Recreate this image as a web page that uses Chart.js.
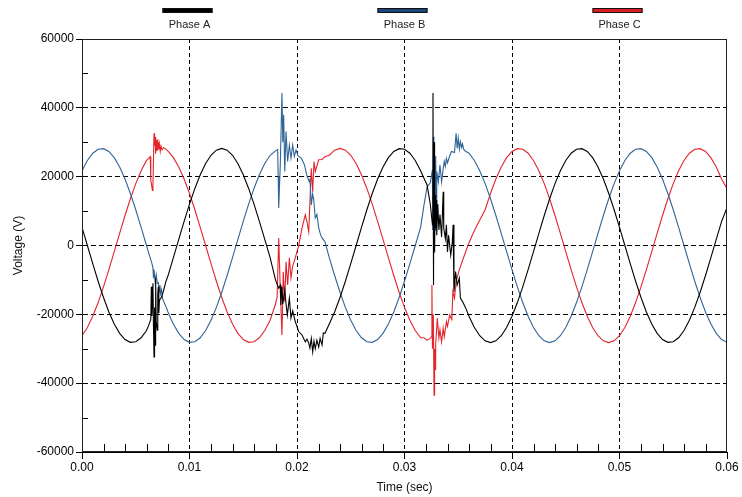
<!DOCTYPE html>
<html><head><meta charset="utf-8">
<script src="https://cdn.jsdelivr.net/npm/chart.js@4.4.0/dist/chart.umd.min.js"></script>
<style>html,body{margin:0;padding:0;background:#fff;}#wrap{width:742px;height:497px;}</style>
</head><body><div id="wrap"><canvas id="c" width="742" height="497"></canvas></div>
<script>
const seriesNames = ['Phase A', 'Phase B', 'Phase C'];
const xTickLabels = ['0.00','0.01','0.02','0.03','0.04','0.05','0.06'];
const yTickLabels = ['-60000','-40000','-20000','0','20000','40000','60000'];

const time = [0,0.0005,0.001,0.0015,0.002,0.0025,0.003,0.0035,0.004,0.0045,0.005,0.0055,0.006,0.0065,0.007,0.0075,0.008,0.0085,0.009,0.0095,
0.01,0.0105,0.011,0.0115,0.012,0.0125,0.013,0.0135,0.014,0.0145,0.015,0.0155,0.016,0.0165,0.017,0.0175,0.018,0.0185,0.019,0.0195,
0.02,0.0205,0.021,0.0215,0.022,0.0225,0.023,0.0235,0.024,0.0245,0.025,0.0255,0.026,0.0265,0.027,0.0275,0.028,0.0285,0.029,0.0295,
0.03,0.0305,0.031,0.0315,0.032,0.0325,0.033,0.0335,0.034,0.0345,0.035,0.0355,0.036,0.0365,0.037,0.0375,0.038,0.0385,0.039,0.0395,
0.04,0.0405,0.041,0.0415,0.042,0.0425,0.043,0.0435,0.044,0.0445,0.045,0.0455,0.046,0.0465,0.047,0.0475,0.048,0.0485,0.049,0.0495,
0.05,0.0505,0.051,0.0515,0.052,0.0525,0.053,0.0535,0.054,0.0545,0.055,0.0555,0.056,0.0565,0.057,0.0575,0.058,0.0585,0.059,0.0595,0.06];

const phaseA = [5280,0,-5280,-10380,-15110,-19300,-22810,-25520,-27310,-28140,-27980,-26820,-24710,-21730,-17980,-13590,-8710,-3530,1770,7010,
12010,16580,20560,23810,26220,27700,28200,27700,26220,23810,20560,16580,12010,7010,1770,-3530,-8710,-13590,-17980,-21730,
-24710,-26820,-27980,-28140,-27310,-25520,-22810,-19300,-15110,-10380,-5280,0,5280,10380,15110,19300,22810,25520,27310,28140,
27980,26820,24710,21730,17980,13590,8710,3530,-1770,-7010,-12010,-16580,-20560,-23810,-26220,-27700,-28200,-27700,-26220,-23810,
-20560,-16580,-12010,-7010,-1770,3530,8710,13590,17980,21730,24710,26820,27980,28140,27310,25520,22810,19300,15110,10380,
5280,0,-5280,-10380,-15110,-19300,-22810,-25520,-27310,-28140,-27980,-26820,-24710,-21730,-17980,-13590,-8710,-3530,1770,7010,11000];

const phaseB = [21730,24710,26820,27980,28140,27310,25520,22810,19300,15110,10380,5280,0,-5280,-10380,-15110,-19300,-22810,-25520,-27310,
-28140,-27980,-26820,-24710,-21730,-17980,-13590,-8710,-3530,1770,7010,12010,16580,20560,23810,26220,27700,28200,27700,26220,
23810,20560,16580,12010,7010,1770,-3530,-8710,-13590,-17980,-21730,-24710,-26820,-27980,-28140,-27310,-25520,-22810,-19300,-15110,
-10380,-5280,0,5280,10380,15110,19300,22810,25520,27310,28140,27980,26820,24710,21730,17980,13590,8710,3530,-1770,
-7010,-12010,-16580,-20560,-23810,-26220,-27700,-28200,-27700,-26220,-23810,-20560,-16580,-12010,-7010,-1770,3530,8710,13590,17980,
21730,24710,26820,27980,28140,27310,25520,22810,19300,15110,10380,5280,0,-5280,-10380,-15110,-19300,-22810,-25520,-27310,-28140];

const phaseC = [-26220,-23810,-20560,-16580,-12010,-7010,-1770,3530,8710,13590,17980,21730,24710,26820,27980,28140,27310,25520,22810,19300,
15110,10380,5280,0,-5280,-10380,-15110,-19300,-22810,-25520,-27310,-28140,-27980,-26820,-24710,-21730,-17980,-13590,-8710,-3530,
1770,7010,12010,16580,20560,23810,26220,27700,28200,27700,26220,23810,20560,16580,12010,7010,1770,-3530,-8710,-13590,
-17980,-21730,-24710,-26820,-27980,-28140,-27310,-25520,-22810,-19300,-15110,-10380,-5280,0,5280,10380,15110,19300,22810,25520,
27310,28140,27980,26820,24710,21730,17980,13590,8710,3530,-1770,-7010,-12010,-16580,-20560,-23810,-26220,-27700,-28200,-27700,
-26220,-23810,-20560,-16580,-12010,-7010,-1770,3530,8710,13590,17980,21730,24710,26820,27980,28140,27310,25520,22810,19300,16500];

// switching transients (replace the steady samples inside their time span)
const burstTimeA = [0.0062,0.0064,0.00645,0.0065,0.0066,0.00665,0.0067,0.00675,0.0068,0.00685,0.0069,0.007,0.00705,0.0071,0.00715,0.0072,0.0074,0.0076,0.0078,0.008,0.0083,
0.018,0.0183,0.01845,0.0185,0.0186,0.01868,0.01886,0.01898,0.0191,0.01929,0.01944,0.0196,0.01984,0.02016,0.02047,0.02077,0.02093,0.02109,0.0212,0.02133,0.02146,0.02158,0.0217,0.02185,0.02202,0.02215,0.02233,0.02245,0.0226,
0.0318,0.0321,0.0324,0.0326,0.03265,0.0327,0.03275,0.0328,0.03285,0.0329,0.03295,0.033,0.0331,0.0332,0.0333,0.03345,0.0336,0.03365,0.0338,0.0339,0.034,0.0341,0.0343,0.03445,0.03452,0.0346,0.03475,0.0349,0.0351,0.0352,0.0354,0.0357];
const burstA = [-23200,-21500,-12000,-20500,-11000,-24000,-32400,-18000,-29000,-9500,-22000,-24600,-14000,-12000,-19600,-16000,-15000,-13000,-10500,-8800,-5620,
-10000,-12400,-11500,-17300,-12000,-17000,-13000,-17000,-20200,-15300,-21100,-19000,-22100,-25000,-26000,-28000,-27200,-28300,-29800,-27000,-30900,-27800,-30000,-27500,-29500,-27000,-28900,-25400,-25500,
19600,17600,12000,6000,44300,-11500,30000,-2000,14700,5000,13200,3000,12000,4500,9000,2500,15600,5100,2000,6000,-1900,3000,-2800,1000,6000,-13400,-7600,-11500,-9500,-15300,-16300,-18200];

const burstTimeB = [0.0062,0.0065,0.0066,0.00665,0.0067,0.0068,0.0069,0.007,0.0071,0.0072,0.00725,0.0073,0.0074,0.0075,0.0078,0.008,0.0083,
0.018,0.0182,0.01825,0.0183,0.01845,0.0186,0.01868,0.01876,0.01886,0.01898,0.01913,0.01929,0.01944,0.0196,0.01975,0.01991,0.0201,0.0204,0.0207,0.0209,0.02115,0.0212,0.02133,0.02145,0.02155,0.0217,0.02185,0.02202,0.0222,0.02233,0.0226,
0.0318,0.0321,0.0324,0.0326,0.03262,0.03268,0.03273,0.03278,0.03284,0.0329,0.03296,0.033,0.03315,0.0333,0.03345,0.0336,0.0337,0.0338,0.0339,0.034,0.0342,0.03438,0.03465,0.0348,0.0349,0.035,0.0351,0.0352,0.0353,0.0354,0.0355,0.0357,0.0359];
const burstB = [-2120,-5200,-6500,-9500,-7000,-10500,-8500,-11000,-10800,-13500,-11500,-14000,-12800,-15500,-17700,-19300,-21500,
27500,27900,20000,10900,24000,44300,30000,38000,21500,33100,24400,29200,25400,29200,25900,27800,26000,25400,23400,20500,18500,19500,11800,15000,13500,8000,9000,5100,3000,2200,1100,
11500,17000,18200,22000,4500,31600,8000,30000,4500,26000,12000,21500,18500,23400,18500,22400,24400,23000,25300,24000,26000,27300,27000,32600,28300,31200,28000,30200,28500,29500,28000,27300,27000];

const burstTimeC = [0.0062,0.00635,0.0064,0.00655,0.0066,0.00665,0.0067,0.00675,0.0068,0.00685,0.0069,0.00695,0.007,0.00705,0.0071,0.00715,0.0072,0.00728,0.00735,0.00745,0.0076,0.0078,0.008,0.0083,
0.018,0.01815,0.0183,0.01845,0.0186,0.01872,0.01886,0.01898,0.01913,0.01929,0.01944,0.0196,0.01984,0.02016,0.02047,0.02077,0.02093,0.02109,0.02133,0.02146,0.02158,0.0217,0.02202,0.02233,0.0226,
0.0318,0.0321,0.0324,0.0325,0.03255,0.0326,0.03268,0.03275,0.0328,0.03284,0.0329,0.03305,0.0332,0.0333,0.03345,0.0336,0.0337,0.0339,0.034,0.0342,0.0344,0.0345,0.03465,0.0348,0.0351,0.0355,0.0359,0.0363,0.0367,0.0371];
const burstC = [25300,25800,19000,16000,17500,25000,32600,29000,31500,26700,30500,27500,30800,27600,30000,28000,29500,27400,28900,27800,28400,28000,27400,26350,
-17000,-15000,2200,-13400,-26000,-7600,-16300,-4700,-11500,-3600,-9400,-6000,-3600,0,5100,8900,6900,4000,22400,15600,24400,21500,24900,25000,25800,
-26800,-27500,-27000,-26500,-11500,-30000,-20000,-43500,-30000,-36000,-28900,-21100,-26900,-24500,-28000,-24000,-26500,-22100,-23500,-20200,-21500,-13400,-15300,-10500,-7000,-3500,0,3000,5600,8000];

const colors = ['#000000', '#2f6496', '#e3242b'];
const legendColors = ['#000000', '#1b4478', '#d81e24'];

function buildSeries(base, bt, bv) {
  const segs = [];
  let s = 0;
  for (let i = 1; i <= bt.length; i++) {
    if (i === bt.length || bt[i] - bt[i - 1] > 0.003) { segs.push([bt[s], bt[i - 1]]); s = i; }
  }
  const pts = [];
  time.forEach((t, i) => {
    if (!segs.some(([a, b]) => t >= a - 1e-9 && t <= b + 1e-9)) pts.push({x: t, y: base[i]});
  });
  bt.forEach((t, i) => pts.push({x: t, y: bv[i]}));
  pts.sort((p, q) => p.x - q.x);
  return pts;
}

const FONT = 'Liberation Sans, Arial, sans-serif';

const decor = {
  id: 'decor',
  afterDraw(chart) {
    const {ctx, chartArea: a, scales: {x, y}} = chart;
    ctx.save();
    ctx.strokeStyle = '#222';
    ctx.lineWidth = 1;
    ctx.strokeRect(Math.round(a.left) + 0.5, Math.round(a.top) + 0.5, Math.round(a.right - a.left) - 1, Math.round(a.bottom - a.top) - 1);
    ctx.strokeStyle = '#000';
    ctx.beginPath();
    for (let v = -50000; v <= 50000; v += 20000) {
      const py = Math.round(y.getPixelForValue(v)) + 0.5;
      ctx.moveTo(a.left, py); ctx.lineTo(a.left + 6, py);
    }
    for (let i = 1; i < 30; i++) {
      if (i % 5 === 0) continue;
      const px = Math.round(x.getPixelForValue(i * 0.002)) + 0.5;
      ctx.moveTo(px, a.bottom); ctx.lineTo(px, a.bottom - 8);
    }
    ctx.stroke();
    const centers = [0.01, 0.03, 0.05].map(v => x.getPixelForValue(v) - 2);
    ctx.font = '11px ' + FONT;
    ctx.textAlign = 'center';
    ctx.textBaseline = 'middle';
    chart.data.datasets.forEach((ds, i) => {
      const cx = centers[i];
      ctx.fillStyle = legendColors[i];
      ctx.fillRect(cx - 25, 8, 50, 5);
      ctx.strokeStyle = '#111';
      ctx.strokeRect(cx - 25 + 0.5, 8.5, 49, 4);
      ctx.fillStyle = '#222';
      ctx.fillText(ds.label, cx + 2, 25);
    });
    ctx.restore();
  }
};

new Chart(document.getElementById('c'), {
  type: 'line',
  data: {
    datasets: [
      {label: seriesNames[0], data: buildSeries(phaseA, burstTimeA, burstA), borderColor: colors[0]},
      {label: seriesNames[1], data: buildSeries(phaseB, burstTimeB, burstB), borderColor: colors[1]},
      {label: seriesNames[2], data: buildSeries(phaseC, burstTimeC, burstC), borderColor: colors[2]}
    ].map(d => Object.assign(d, {borderWidth: 1.1, pointRadius: 0, tension: 0, fill: false}))
  },
  options: {
    responsive: false,
    animation: false,
    layout: {padding: {top: 39, right: 15, left: 0, bottom: 0}},
    plugins: {legend: {display: false}, tooltip: {enabled: false}},
    scales: {
      x: {
        type: 'linear', min: 0, max: 0.06,
        afterFit: s => { s.height = 45; },
        afterBuildTicks: s => { s.ticks = xTickLabels.map(v => ({value: parseFloat(v)})); },
        ticks: {callback: (v, i) => xTickLabels[i], color: '#000', font: {family: FONT, size: 12}, padding: 1, maxRotation: 0, autoSkip: false},
        grid: {color: c => (c.index === 0 || c.index === 6) ? 'rgba(0,0,0,0)' : '#000', tickColor: '#000', tickLength: 7, lineWidth: 1},
        border: {display: true, color: '#000', width: 1, dash: [4, 3]},
        title: {display: true, text: 'Time (sec)', color: '#111', font: {family: FONT, size: 12}, padding: {top: 0, bottom: 2}}
      },
      y: {
        type: 'linear', min: -60000, max: 60000,
        afterFit: s => { s.width = 82; },
        afterBuildTicks: s => { s.ticks = yTickLabels.map(v => ({value: parseFloat(v)})); },
        ticks: {callback: (v, i) => yTickLabels[i], color: '#000', font: {family: FONT, size: 12}, padding: 2},
        grid: {color: c => (c.index === 0 || c.index === 6) ? 'rgba(0,0,0,0)' : '#000', tickColor: '#000', tickLength: 6, lineWidth: 1},
        border: {display: true, color: '#000', width: 1, dash: [5, 3]},
        title: {display: true, text: 'Voltage (V)', color: '#111', font: {family: FONT, size: 12}, padding: {top: 11, bottom: 0}}
      }
    }
  },
  plugins: [decor]
});
</script></body></html>
